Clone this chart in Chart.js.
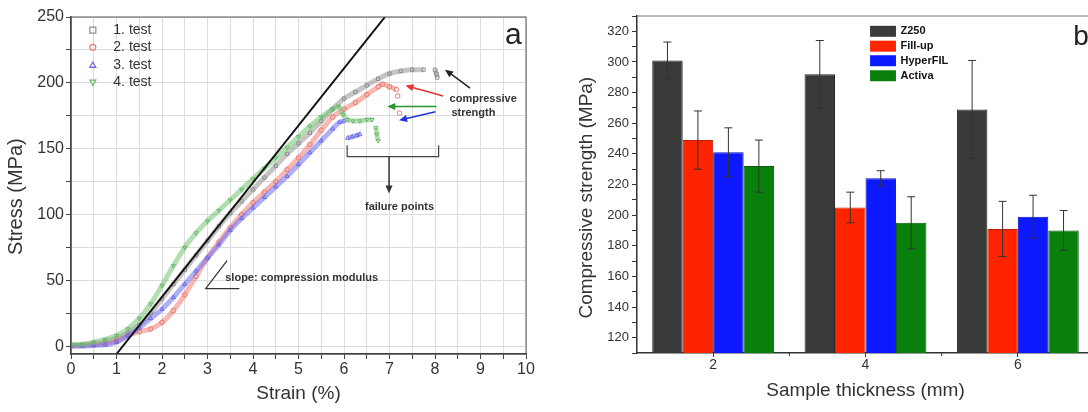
<!DOCTYPE html>
<html>
<head>
<meta charset="utf-8">
<script src="https://cdn.jsdelivr.net/npm/chart.js@4.4.1/dist/chart.umd.min.js"></script>
<style>
  html, body { margin: 0; padding: 0; background: #fff; overflow: hidden; width: 1088px; height: 412px; }
  #wrapA { position: absolute; left: 0; top: 0; width: 540px; height: 412px; }
  #wrapB { position: absolute; left: 575px; top: 0; width: 525px; height: 412px; }
</style>
</head>
<body>
<div id="wrapA"><canvas id="chartA" width="540" height="412"></canvas></div>
<div id="wrapB"><canvas id="chartB" width="525" height="412"></canvas></div>
<script>
// --- panel a: stress-strain curves (null = break in the curve) ---
const testLabels = ['1. test', '2. test', '3. test', '4. test'];

const test1Strain = [0, 0.25, 0.5, 0.75, 1.0, 1.25, 1.5, 1.75, 2.0, 2.25, 2.5, 2.75, 3.0, 3.25, 3.5, 3.75, 4.0, 4.25, 4.5, 4.75, 5.0, 5.25, 5.5, 5.75, 6.0, 6.25, 6.5, 6.75, 7.0, 7.25, 7.5, 7.75, 7.9, 8.0, 8.03, 8.05];
const test1Stress = [0.5, 1, 2, 3.5, 6, 10, 16, 25, 36, 47, 58, 69, 80, 91, 101, 110, 119, 128, 137, 146, 154, 162, 171, 180, 188, 193, 198, 203, 207, 209, 210, 210, null, 210, 207, 204];

const test2Strain = [0, 0.25, 0.5, 0.75, 1.0, 1.25, 1.5, 1.75, 2.0, 2.25, 2.5, 2.75, 3.0, 3.25, 3.5, 3.75, 4.0, 4.25, 4.5, 4.75, 5.0, 5.25, 5.5, 5.75, 6.0, 6.25, 6.5, 6.75, 6.85, 7.0, 7.15, 7.17, 7.18, 7.2, 7.22];
const test2Stress = [0, 0.5, 1, 2, 4, 8, 11, 13, 18, 27, 39, 53, 67, 79, 90, 100, 109, 117, 125, 134, 143, 153, 164, 174, 180, 185, 191, 197, 199, 197, 195, null, 190, null, 177];

const test3Strain = [0, 0.25, 0.5, 0.75, 1.0, 1.25, 1.5, 1.75, 2.0, 2.25, 2.5, 2.75, 3.0, 3.25, 3.5, 3.75, 4.0, 4.25, 4.5, 4.75, 5.0, 5.25, 5.5, 5.75, 5.9, 6.0, 6.04, 6.08, 6.18, 6.28, 6.35];
const test3Stress = [0, 0, 0.5, 1, 3, 8, 14, 21, 28, 37, 47, 57, 67, 77, 88, 97, 105, 113, 121, 129, 138, 147, 156, 165, 170, 171, null, 158, 159, 160, 161];

const test4Strain = [0, 0.25, 0.5, 0.75, 1.0, 1.25, 1.5, 1.75, 2.0, 2.25, 2.5, 2.75, 3.0, 3.25, 3.5, 3.75, 4.0, 4.25, 4.5, 4.75, 5.0, 5.25, 5.5, 5.75, 5.88, 5.98, 6.08, 6.2, 6.35, 6.5, 6.62, 6.66, 6.7, 6.72, 6.75];
const test4Stress = [1, 1.5, 3, 5, 8, 13, 21, 32, 46, 61, 75, 86, 95, 103, 111, 119, 127, 135, 143, 151, 159, 167, 174, 180, 182, 176, 172, 171, 171, 172, 172, null, 166, 161, 156];

// tangent line (compression modulus)
const slopeStrain = [1.0, 6.9];
const slopeStress = [-6, 250];

// --- panel b: compressive strength by thickness ---
const thicknessMm = [2, 4, 6];
const minorThicknessTicks = [3, 5];
const materialLabels = ['Z250', 'Fill-up', 'HyperFIL', 'Activa'];
const z250 = [301, 292, 269];
const z250Err = [12, 22, 32];
const fillUp = [249, 205, 191];
const fillUpErr = [19, 10, 18];
const hyperFil = [241, 224, 199];
const hyperFilErr = [16, 5, 14];
const activa = [232, 195, 190];
const activaErr = [17, 17, 13];

const FONT = 'Arial, "Liberation Sans", sans-serif';
const toXY = (xs, ys) => xs.map((x, i) => ({ x: x, y: ys[i] }));
// trailing spaces nudge the rotated axis titles down like in the original
const pad = n => '\u00a0'.repeat(n);

function arrow(ctx, x1, y1, x2, y2, color) {
  const ang = Math.atan2(y2 - y1, x2 - x1), L = 8, W = 3.5;
  const c = Math.cos(ang), s = Math.sin(ang);
  ctx.strokeStyle = color; ctx.fillStyle = color; ctx.lineWidth = 1.5;
  ctx.beginPath(); ctx.moveTo(x1, y1); ctx.lineTo(x2 - L * 0.7 * c, y2 - L * 0.7 * s); ctx.stroke();
  ctx.beginPath(); ctx.moveTo(x2, y2);
  ctx.lineTo(x2 - L * c + W * s, y2 - L * s - W * c);
  ctx.lineTo(x2 - L * c - W * s, y2 - L * s + W * c);
  ctx.closePath(); ctx.fill();
}

function marker(ctx, shape, x, y, r, color) {
  ctx.strokeStyle = color; ctx.lineWidth = 1.2; ctx.beginPath();
  if (shape === 'rect') ctx.rect(x - r, y - r, 2 * r, 2 * r);
  else if (shape === 'circle') ctx.arc(x, y, r, 0, Math.PI * 2);
  else if (shape === 'up') { ctx.moveTo(x, y - r); ctx.lineTo(x + r, y + r * 0.8); ctx.lineTo(x - r, y + r * 0.8); ctx.closePath(); }
  else { ctx.moveTo(x, y + r); ctx.lineTo(x + r, y - r * 0.8); ctx.lineTo(x - r, y - r * 0.8); ctx.closePath(); }
  ctx.stroke();
}

// --- PANEL A ---
const curveStyles = [
  { line: 'rgba(150,150,150,0.55)', mark: '#8e8e8e', shape: 'rect', rot: 0, legend: 'rect' },
  { line: 'rgba(240,125,115,0.55)', mark: '#e87a72', shape: 'circle', rot: 0, legend: 'circle' },
  { line: 'rgba(110,110,240,0.55)', mark: '#6a6ae8', shape: 'triangle', rot: 0, legend: 'up' },
  { line: 'rgba(115,195,115,0.55)', mark: '#68b868', shape: 'triangle', rot: 180, legend: 'down' }
];
const curves = [
  toXY(test1Strain, test1Stress),
  toXY(test2Strain, test2Stress),
  toXY(test3Strain, test3Stress),
  toXY(test4Strain, test4Stress)
];

const notesA = {
  id: 'notesA',
  afterDatasetsDraw(chart) {
    const { ctx, chartArea: a, scales: { x, y } } = chart;
    const px = s => x.getPixelForValue(s), py = v => y.getPixelForValue(v);
    ctx.save();
    ctx.strokeStyle = '#555'; ctx.lineWidth = 1;
    ctx.strokeRect(a.left, a.top, a.right - a.left, a.bottom - a.top);

    // legend
    const rows = [240, 227, 213.5, 200.3];
    ctx.font = '14px ' + FONT; ctx.textBaseline = 'middle'; ctx.textAlign = 'left';
    testLabels.forEach((t, i) => {
      marker(ctx, curveStyles[i].legend, px(0.48), py(rows[i]), 3, curveStyles[i].mark);
      ctx.fillStyle = '#333';
      ctx.fillText(t, px(0.93), py(rows[i]));
    });

    // panel letter
    ctx.font = '30px ' + FONT; ctx.textAlign = 'center'; ctx.fillStyle = '#222';
    ctx.fillText('a', px(9.72), py(236));

    // arrows to compressive strength
    arrow(ctx, px(8.77), py(196), px(8.22), py(210), '#222');
    arrow(ctx, px(8.18), py(190), px(7.35), py(198), '#e83232');
    arrow(ctx, px(8.03), py(182), px(6.95), py(182), '#2a962a');
    arrow(ctx, px(8.01), py(178), px(7.21), py(171.5), '#2233dd');

    ctx.font = 'bold 11px ' + FONT; ctx.fillStyle = '#333'; ctx.textAlign = 'left';
    ctx.fillText('compressive', px(8.32), py(187.5));
    ctx.fillText('strength', px(8.36), py(177));

    // failure bracket
    ctx.strokeStyle = '#444'; ctx.lineWidth = 1.2;
    ctx.beginPath();
    ctx.moveTo(px(6.07), py(152.5)); ctx.lineTo(px(6.07), py(144));
    ctx.lineTo(px(8.08), py(144)); ctx.lineTo(px(8.08), py(152.5));
    ctx.stroke();
    arrow(ctx, px(6.99), py(144), px(6.99), py(116), '#333');
    ctx.textAlign = 'center';
    ctx.fillText('failure points', px(7.22), py(106));

    // slope marker
    ctx.strokeStyle = '#333'; ctx.lineWidth = 1.2;
    ctx.beginPath();
    ctx.moveTo(px(3.43), py(65)); ctx.lineTo(px(2.96), py(43.7)); ctx.lineTo(px(3.7), py(43.7));
    ctx.stroke();
    ctx.textAlign = 'left';
    ctx.fillText('slope: compression modulus', px(3.39), py(52));
    ctx.restore();
  }
};

const datasetsA = curves.map((pts, i) => ({
  label: testLabels[i],
  data: pts,
  borderColor: curveStyles[i].line,
  borderWidth: 5,
  cubicInterpolationMode: 'monotone',
  spanGaps: false,
  pointStyle: curveStyles[i].shape,
  pointRotation: curveStyles[i].rot,
  pointRadius: 2.3,
  pointBorderWidth: 1,
  pointBorderColor: curveStyles[i].mark,
  pointBackgroundColor: 'rgba(255,255,255,0)',
  order: 4 - i
}));
datasetsA.push({
  label: 'slope',
  data: toXY(slopeStrain, slopeStress),
  borderColor: '#111',
  borderWidth: 2,
  pointRadius: 0,
  order: 0
});

new Chart(document.getElementById('chartA'), {
  type: 'line',
  data: { datasets: datasetsA },
  options: {
    responsive: false,
    animation: false,
    layout: { padding: { top: 17, right: 14, left: 0, bottom: 0 } },
    plugins: { legend: { display: false }, tooltip: { enabled: false } },
    scales: {
      x: {
        type: 'linear', min: 0, max: 10,
        afterFit: s => { s.height = 58; },
        ticks: {
          stepSize: 0.5, autoSkip: false, maxRotation: 0, padding: 1, color: '#333',
          font: { family: FONT, size: 16 },
          callback: v => Number.isInteger(v) ? v : ''
        },
        grid: { color: '#dcdcdc', tickColor: '#444', tickLength: 5 },
        border: { color: '#333', width: 1.5 },
        title: { display: true, text: 'Strain (%)', color: '#333', padding: { top: 0, bottom: 7 }, font: { family: FONT, size: 19 } }
      },
      y: {
        type: 'linear', min: -6, max: 250,
        afterFit: s => { s.width = 71; },
        ticks: {
          stepSize: 25, includeBounds: false, autoSkip: false, padding: 2, color: '#333',
          font: { family: FONT, size: 16 },
          callback: v => v % 50 === 0 ? v : ''
        },
        grid: { color: '#dcdcdc', tickColor: '#444', tickLength: 5 },
        border: { color: '#333', width: 1.5 },
        title: { display: true, text: 'Stress (MPa)' + pad(4), color: '#333', padding: { top: 4, bottom: 0 }, font: { family: FONT, size: 20 } }
      }
    }
  },
  plugins: [notesA]
});

// --- PANEL B ---
const barColors = ['#3a3a3a', '#ff2400', '#0c18ff', '#0a800c'];
const barEdges = ['#222', '#c01a00', '#0810b0', '#065a08'];
const barValues = [z250, fillUp, hyperFil, activa];
const barErrors = [z250Err, fillUpErr, hyperFilErr, activaErr];

const notesB = {
  id: 'notesB',
  afterDatasetsDraw(chart) {
    const { ctx, chartArea: a, scales: { x, y } } = chart;
    const px = s => x.getPixelForValue(s), py = v => y.getPixelForValue(v);
    ctx.save();
    ctx.strokeStyle = '#777'; ctx.lineWidth = 1;
    ctx.beginPath(); ctx.moveTo(a.left, a.top); ctx.lineTo(a.right, a.top); ctx.lineTo(a.right, a.bottom); ctx.stroke();

    // minor ticks on the thickness axis
    ctx.strokeStyle = '#333'; ctx.lineWidth = 1;
    minorThicknessTicks.forEach(t => {
      ctx.beginPath(); ctx.moveTo(px(t), a.bottom); ctx.lineTo(px(t), a.bottom + 3); ctx.stroke();
    });

    // error bars
    chart.data.datasets.forEach((ds, i) => {
      chart.getDatasetMeta(i).data.forEach((bar, j) => {
        const v = ds.data[j].y, e = barErrors[i][j];
        const t = py(v + e), b = py(v - e), cx = bar.x;
        ctx.beginPath();
        ctx.moveTo(cx, t); ctx.lineTo(cx, b);
        ctx.moveTo(cx - 4, t); ctx.lineTo(cx + 4, t);
        ctx.moveTo(cx - 4, b); ctx.lineTo(cx + 4, b);
        ctx.stroke();
      });
    });

    // legend
    const rows = [320, 310.3, 300.8, 291];
    ctx.font = 'bold 11px ' + FONT; ctx.textBaseline = 'middle'; ctx.textAlign = 'left';
    materialLabels.forEach((t, i) => {
      const yy = py(rows[i]);
      ctx.fillStyle = barColors[i];
      ctx.fillRect(px(4.06), yy - 5.5, px(4.40) - px(4.06), 11);
      ctx.fillStyle = '#111';
      ctx.fillText(t, px(4.46), yy);
    });

    ctx.font = '28px ' + FONT; ctx.textAlign = 'center'; ctx.textBaseline = 'alphabetic'; ctx.fillStyle = '#222';
    ctx.fillText('b', px(6.83), py(311.3));
    ctx.restore();
  }
};

new Chart(document.getElementById('chartB'), {
  type: 'bar',
  data: {
    datasets: materialLabels.map((m, i) => ({
      label: m,
      data: toXY(thicknessMm, barValues[i]),
      backgroundColor: barColors[i],
      borderColor: barEdges[i],
      borderWidth: 1,
      categoryPercentage: 0.8,
      barPercentage: 1.0
    }))
  },
  options: {
    responsive: false,
    animation: false,
    layout: { padding: { top: 16, right: 6, left: 0, bottom: 0 } },
    plugins: { legend: { display: false }, tooltip: { enabled: false } },
    scales: {
      x: {
        type: 'linear', min: 1, max: 7, offset: false,
        afterFit: s => { s.height = 59; },
        afterBuildTicks: s => { s.ticks = thicknessMm.map(v => ({ value: v })); },
        ticks: {
          autoSkip: false, maxRotation: 0, padding: 0, color: '#333',
          font: { family: FONT, size: 14 }
        },
        grid: { drawOnChartArea: false, offset: false, tickColor: '#333', tickLength: 4 },
        border: { color: '#333', width: 1.5 },
        title: { display: true, text: 'Sample thickness (mm)', color: '#333', padding: { top: 0, bottom: 10 }, font: { family: FONT, size: 19 } }
      },
      y: {
        type: 'linear', min: 110, max: 330,
        afterFit: s => { s.width = 62; },
        ticks: {
          stepSize: 10, autoSkip: false, padding: 3, color: '#333',
          font: { family: FONT, size: 13 },
          callback: v => (v % 20 === 0 && v >= 120 && v <= 320) ? v : ''
        },
        grid: { drawOnChartArea: false, tickColor: '#333', tickLength: 5 },
        border: { color: '#333', width: 1.5 },
        title: { display: true, text: 'Compressive strength (MPa)' + pad(5), color: '#333', padding: 0, font: { family: FONT, size: 19 } }
      }
    }
  },
  plugins: [notesB]
});
</script>
</body>
</html>
